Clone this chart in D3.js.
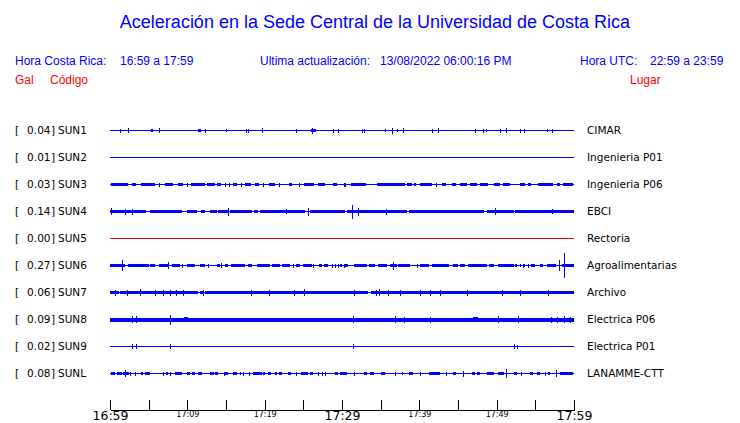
<!DOCTYPE html>
<html lang="es">
<head>
<meta charset="UTF-8">
<title>Aceleración Sede Central UCR</title>
<script src="https://d3js.org/d3.v7.min.js"></script>
<style>
    body { margin: 0; background: #fff; }
    .hdr { font-family: "Liberation Sans", Arial, sans-serif; }
    .lbl { font-family: "DejaVu Sans", sans-serif; font-size: 10.5px; fill: #000; }
    .axis text { font-family: "DejaVu Sans", sans-serif; fill: #000; }
    .axis line, .axis path { stroke: #000; shape-rendering: crispEdges; }
</style>
</head>
<body>
<svg id="chart" width="740" height="423"></svg>
<script>
// estaciones
let codes = ["SUN1", "SUN2", "SUN3", "SUN4", "SUN5", "SUN6", "SUN7", "SUN8", "SUN9", "SUNL"]
let gal = [0.04, 0.01, 0.03, 0.14, 0.00, 0.27, 0.06, 0.09, 0.02, 0.08]
let places = ["CIMAR", "Ingenieria P01", "Ingenieria P06", "EBCI", "Rectoria", "Agroalimentarias",
    "Archivo", "Electrica P06", "Electrica P01", "LANAMME-CTT"]
let offline = ["SUN5"]

// minutos desde 16:59, marcas de eje
let tickMinutes = [0, 5, 10, 15, 20, 25, 30, 35, 40, 45, 50, 55, 60]
let tickLabels = {0: "16:59", 10: "17:09", 20: "17:19", 30: "17:29", 40: "17:39", 50: "17:49", 60: "17:59"}
let majorTicks = [0, 30, 60]

// envolvente de cada traza: tramos [t0, t1, amplitud] y picos [t, amplitud]
let bands = [
    [[5.3, 5.6, 1], [11.4, 11.8, 1], [26.0, 26.6, 1]],
    [],
    [[0.1, 2.3, 1], [2.8, 3.4, 1], [4.0, 5.8, 1], [7.1, 8.2, 1], [8.8, 9.4, 1], [10.5, 12.3, 1],
     [12.6, 13.6, 1], [13.9, 14.4, 1], [15.9, 16.4, 1], [17.5, 18.2, 1], [18.8, 19.3, 1],
     [20.5, 21.3, 1], [23.1, 23.5, 1], [25.1, 26.4, 1], [26.9, 27.8, 1], [28.9, 29.4, 1],
     [31.2, 33.1, 1], [34.5, 38.1, 1], [38.4, 39.0, 1], [39.3, 39.6, 1], [40.1, 41.6, 1],
     [42.9, 43.5, 1], [44.2, 44.8, 1], [45.3, 46.1, 1], [46.6, 47.4, 1], [47.8, 48.9, 1],
     [49.7, 50.4, 1], [50.8, 51.7, 1], [53.0, 53.6, 1], [54.1, 54.5, 1], [55.4, 57.3, 1],
     [57.8, 58.2, 1], [58.6, 59.9, 1]],
    [[0, 4.7, 1.1], [5.2, 9.3, 1.1], [10.0, 11.2, 1.1], [11.8, 12.3, 1.1], [12.9, 13.8, 1.1], [14.0, 15.3, 1.1],
     [15.5, 18.3, 1.1], [18.6, 19.2, 1.1], [19.4, 25.2, 1.1], [25.9, 30.4, 1.1], [30.6, 38.4, 1.1],
     [38.6, 48.3, 1.1], [48.7, 52.2, 1.1], [52.4, 60, 1.1]],
    [],
    [[0, 1.9, 1], [2.3, 5.0, 1], [5.2, 5.8, 1], [6.3, 7.5, 1], [8.0, 9.0, 1], [10.0, 11.0, 1],
     [11.6, 12.3, 1], [13.8, 14.2, 1], [14.9, 15.3, 1], [15.7, 17.5, 1], [17.9, 18.3, 1],
     [19.0, 20.7, 1], [20.9, 22.0, 1], [22.2, 23.3, 1], [24.1, 24.6, 1], [25.0, 26.1, 1],
     [27.0, 27.4, 1], [27.7, 28.2, 1], [29.7, 30.0, 1], [30.4, 30.8, 1], [31.5, 33.2, 1],
     [33.5, 34.3, 1], [34.7, 35.8, 1], [36.2, 37.1, 1], [37.3, 38.8, 1], [40.1, 41.2, 1],
     [41.6, 43.9, 1], [44.4, 45.0, 1], [45.3, 45.9, 1], [46.3, 48.7, 1], [49.0, 49.6, 1],
     [50.2, 52.2, 1], [52.4, 52.6, 1], [53.0, 53.2, 1], [53.4, 53.6, 1], [54.5, 55.0, 1],
     [55.6, 56.0, 1], [56.5, 57.7, 1], [58.4, 60, 1]],
    [[0, 1.1, 1.1], [1.3, 11.4, 1.1], [11.6, 12.0, 1.1], [12.3, 33.4, 1.1], [33.8, 60, 1.1]],
    [[0, 60, 1.5], [9.6, 10.1, 2], [47.0, 47.6, 2]],
    [],
    [[0.1, 0.6, 1], [0.9, 1.5, 1], [1.7, 2.4, 1], [4.0, 4.3, 1], [4.5, 5.2, 1], [7.3, 7.5, 1],
     [8.4, 9.3, 1], [9.9, 10.3, 1], [10.6, 11.0, 1], [11.4, 11.9, 1], [12.9, 13.4, 1],
     [13.6, 14.0, 1], [14.9, 15.2, 1], [15.9, 16.4, 1], [16.8, 17.0, 1], [18.5, 19.6, 1],
     [19.8, 20.0, 1], [20.4, 20.8, 1], [21.3, 21.6, 1], [21.8, 22.2, 1], [23.0, 23.4, 1],
     [24.7, 25.6, 1], [25.9, 26.3, 1], [29.1, 29.5, 1], [29.7, 30.6, 1], [32.8, 33.2, 1],
     [33.6, 34.1, 1], [35.1, 35.6, 1], [37.7, 37.9, 1], [38.6, 39.2, 1], [41.2, 42.7, 1],
     [44.4, 44.8, 1], [46.8, 47.2, 1], [47.4, 47.8, 1], [48.7, 49.6, 1], [50.2, 50.9, 1],
     [52.2, 52.6, 1], [54.3, 54.7, 1], [55.2, 55.6, 1], [56.7, 56.9, 1], [58.2, 59.9, 1]]
]

let spikes = [
    [[1.3, 1.5], [2.3, 2], [6.3, 2], [12.3, 1.5], [15.0, 1], [17.6, 1.5], [17.8, 1.5], [19.7, 2], [24.1, 1.5],
     [26.1, 2.5], [28.8, 1.5], [29.5, 1.5], [32.6, 1.5], [32.9, 1.5], [35.6, 1], [36.5, 2.5], [37.1, 1],
     [37.9, 2], [41.6, 1.5], [42.4, 2], [47.2, 1.5], [48.2, 1.5], [48.6, 1], [50.4, 1.5], [51.2, 2],
     [53.0, 1.5], [53.5, 1.5], [56.5, 1], [57.2, 1.5]],
    [],
    [[6.3, 1.5], [9.9, 1.5], [14.9, 1.5], [15.4, 1.5], [16.9, 1.5], [19.8, 1.5], [21.8, 1.5], [24.4, 1.5],
     [30.3, 1.5], [30.4, 1.5], [42.2, 1.5]],
    [[0.1, 3], [1.9, 2.5], [2.8, 2.5], [15.2, 3.5], [22.8, 2], [25.6, 3.5], [31.3, 6.5], [32.1, 3.5],
     [35.7, 2.5], [49.8, 3], [57.1, 2]],
    [],
    [[1.5, 5], [7.5, 3], [9.3, 1.5], [12.7, 1.5], [14.4, 2], [23.7, 1.5], [26.3, 1.5], [28.7, 1.5], [29.1, 1.5],
     [29.5, 1.5], [30.3, 1.5], [36.6, 3.5], [39.7, 1.5], [53.4, 1.5], [54.1, 1.5], [58.0, 5], [58.7, 12]],
    [[0.6, 2.5], [2.2, 2.5], [3.9, 3], [5.8, 2.5], [6.8, 2.5], [7.8, 2.5], [8.5, 2.5], [9.4, 2.5], [12.0, 2.5],
     [18.2, 2.5], [20.6, 2.5], [23.8, 2.5], [25.1, 3], [31.5, 2.5], [34.4, 2.5], [34.8, 3], [35.9, 2.5],
     [37.5, 2.5], [40.1, 2.5], [41.4, 2.5], [42.7, 2.5], [46.1, 2.5], [50.7, 2.5], [53.0, 2.5], [56.6, 2.5]],
    [[2.9, 3], [3.3, 3], [7.8, 4.5], [31.4, 3], [36.8, 3], [38.0, 2.5], [41.4, 2.5], [50.2, 3], [52.7, 3],
     [57.0, 2.5], [57.8, 2.5], [58.7, 3], [59.5, 2.5]],
    [[2.9, 2], [3.3, 2], [7.8, 2], [31.4, 2], [52.2, 2], [52.6, 1.5]],
    [[2.0, 3], [2.6, 1.5], [3.2, 1.5], [6.8, 1.5], [7.8, 1.5], [14.7, 1.5], [17.2, 1.5], [18.0, 1.5], [24.1, 1.5],
     [26.9, 1.5], [27.4, 1.5], [27.8, 1.5], [31.5, 1.5], [36.9, 1.5], [40.1, 1.5], [43.5, 1.5], [45.7, 2.5],
     [51.2, 4], [53.2, 1.5], [56.2, 1.5], [57.7, 3]]
]

let svg = d3.select("#chart")
let blue = "#0000ff", red = "#ff0000"

let x = d3.scaleLinear().domain([0, 60]).range([110, 574])
let row = d3.scalePoint().domain(codes).range([130, 373])
let amp = d3.scaleLinear().domain([-12, 12]).range([12, -12])

// titulo y encabezados
svg.append("text").attr("class", "hdr")
    .attr("x", 375).attr("y", 28)
    .attr("text-anchor", "middle")
    .style("font-size", "18px").attr("fill", blue)
    .text("Aceleración en la Sede Central de la Universidad de Costa Rica")

let header = [
    {x: 15, t: "Hora Costa Rica:"}, {x: 120, t: "16:59 a 17:59"},
    {x: 260, t: "Ultima actualización:"}, {x: 380, t: "13/08/2022 06:00:16 PM"},
    {x: 580, t: "Hora UTC:"}, {x: 650, t: "22:59 a 23:59"}
]
svg.selectAll(".h1").data(header).enter().append("text")
    .attr("class", "hdr h1")
    .attr("x", d => d.x).attr("y", 65)
    .style("font-size", "12px").attr("fill", blue)
    .text(d => d.t)

let header2 = [{x: 15, t: "Gal"}, {x: 50, t: "Código"}, {x: 630, t: "Lugar"}]
svg.selectAll(".h2").data(header2).enter().append("text")
    .attr("class", "hdr h2")
    .attr("x", d => d.x).attr("y", 84)
    .style("font-size", "12px").attr("fill", red)
    .text(d => d.t)

// etiquetas
let rows = svg.selectAll(".row").data(codes).enter().append("g")
    .attr("class", "row")
    .attr("transform", d => `translate(0,${row(d)})`)

rows.append("text").attr("class", "lbl").attr("x", 15).attr("y", 4).text("[")
rows.append("text").attr("class", "lbl").attr("x", 50.5).attr("y", 4)
    .attr("text-anchor", "end")
    .text((d, i) => gal[i].toFixed(2))
rows.append("text").attr("class", "lbl").attr("x", 51).attr("y", 4).text("]")
rows.append("text").attr("class", "lbl").attr("x", 58).attr("y", 4).text(d => d)
rows.append("text").attr("class", "lbl").attr("x", 587).attr("y", 4).text((d, i) => places[i])

// trazas
rows.each(function (code, i) {
    let g = d3.select(this)
    let c = offline.includes(code) ? red : blue
    g.append("line")
        .attr("x1", x(0)).attr("x2", x(60))
        .attr("y1", 0.5).attr("y2", 0.5)
        .attr("stroke", c).attr("stroke-width", 1)
    g.selectAll(".band").data(bands[i]).enter().append("rect")
        .attr("x", d => x(d[0]))
        .attr("width", d => Math.max(1, x(d[1]) - x(d[0])))
        .attr("y", d => amp(d[2]))
        .attr("height", d => amp(-d[2]) - amp(d[2]) + 1)
        .attr("fill", c)
        .attr("shape-rendering", "crispEdges")
    g.selectAll(".spike").data(spikes[i]).enter().append("line")
        .attr("x1", d => Math.round(x(d[0])) + 0.5).attr("x2", d => Math.round(x(d[0])) + 0.5)
        .attr("y1", d => amp(d[1])).attr("y2", d => amp(-d[1]) + 1)
        .attr("stroke", c).attr("stroke-width", 1)
        .attr("shape-rendering", "crispEdges")
})

// eje de tiempo
let axis = d3.axisBottom(x)
    .tickValues(tickMinutes)
    .tickSize(-10)
    .tickSizeOuter(0)
    .tickPadding(2)
    .tickFormat(d => tickLabels[d] || "")

let ax = svg.append("g").attr("class", "axis")
    .attr("transform", "translate(0,409.5)")
    .call(axis)
ax.selectAll("text")
    .style("font-size", d => majorTicks.includes(d) ? "12.5px" : "8px")
</script>
</body>
</html>
